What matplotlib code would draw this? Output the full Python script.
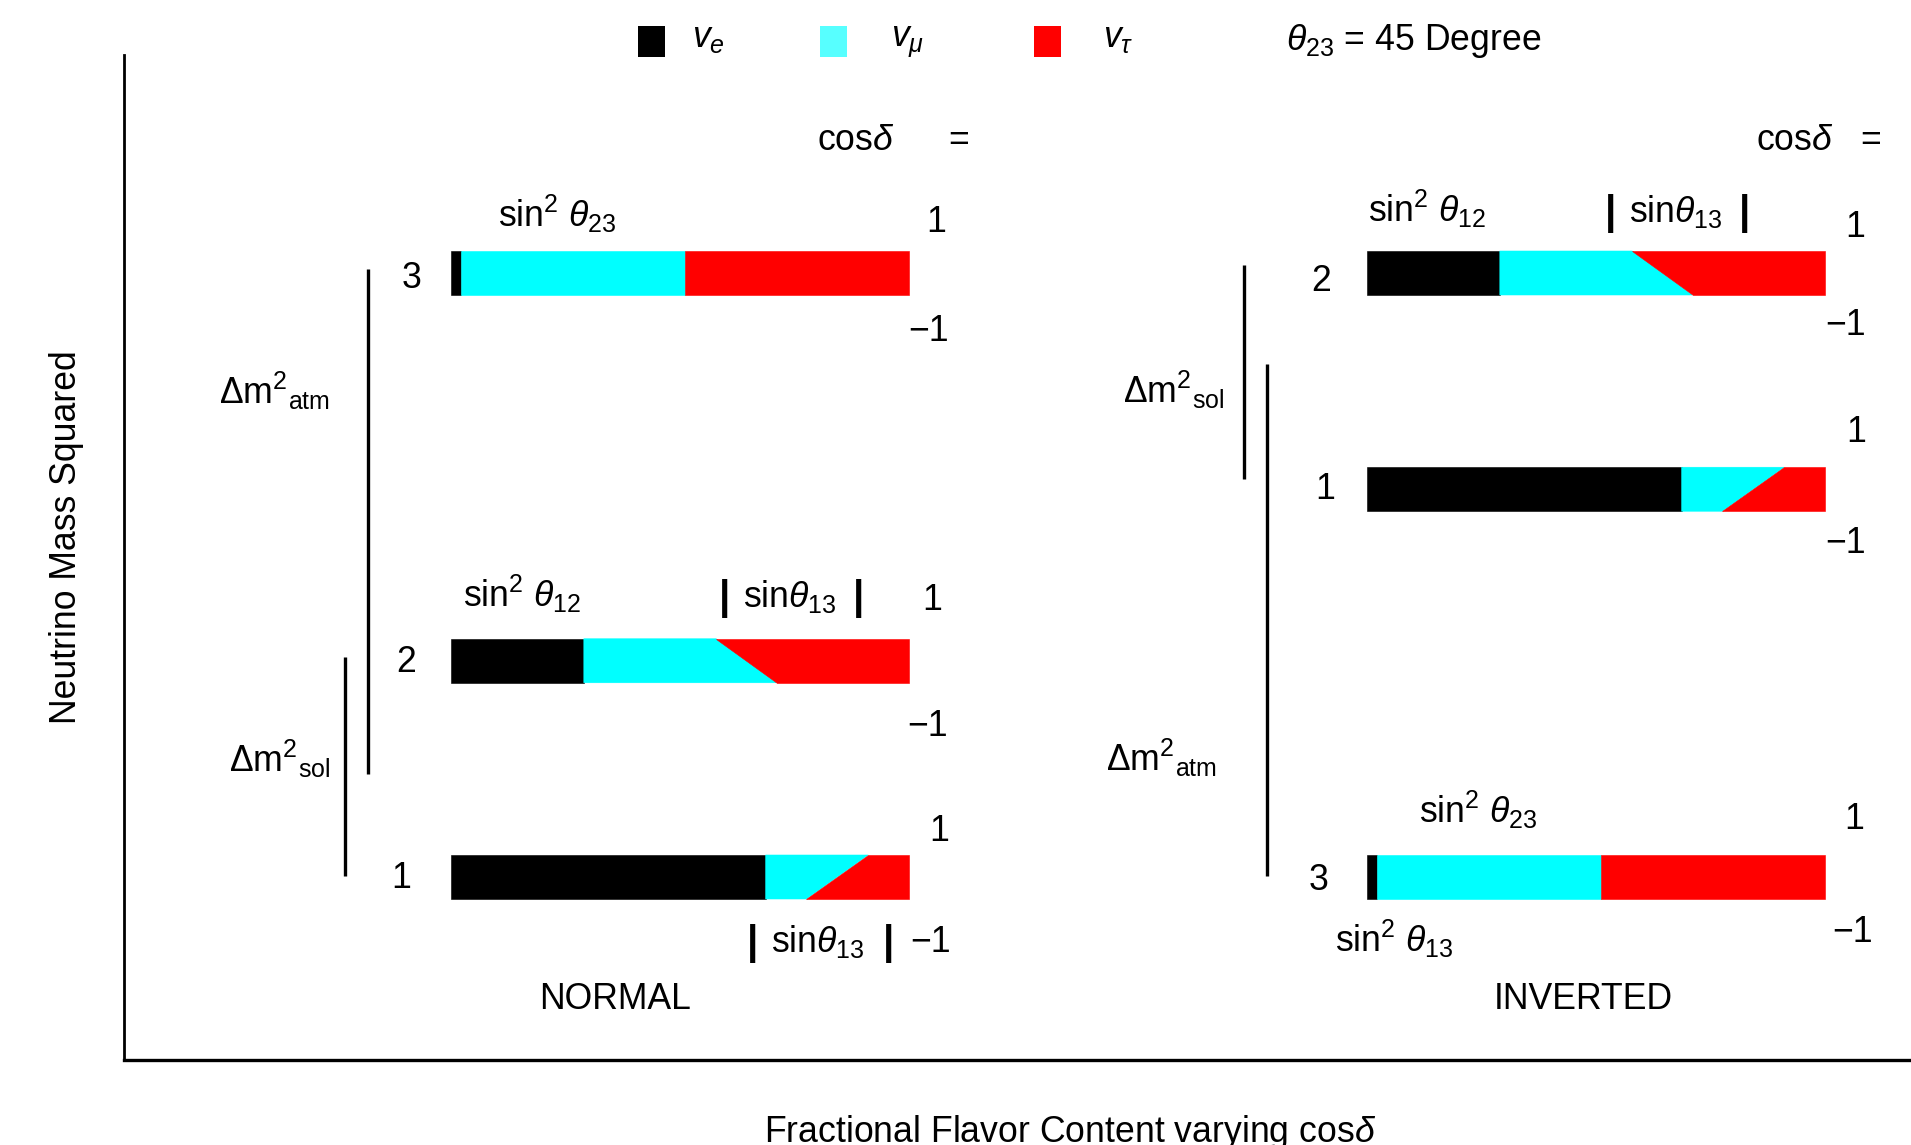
import numpy as np
import matplotlib
matplotlib.use("Agg")
import matplotlib.pyplot as plt
from matplotlib.patches import Rectangle

plt.rcParams['font.family'] = ['Liberation Sans', 'DejaVu Sans']
plt.rcParams['mathtext.fontset'] = 'custom'
plt.rcParams['mathtext.rm'] = 'Liberation Sans'
plt.rcParams['mathtext.it'] = 'Liberation Sans:italic'
plt.rcParams['mathtext.bf'] = 'Liberation Sans:bold'

W, H = 1911, 1145
FS = 25.7

# flavour content of mass states 1, 2, 3
states = ['1', '2', '3']
ve_frac = [0.687, 0.290, 0.022]
vmu_cos_p1 = [0.224, 0.289, 0.489]   # cos(delta) = +1, top edge of bar
vmu_cos_m1 = [0.089, 0.421, 0.489]   # cos(delta) = -1, bottom edge of bar

# mass squared levels (arbitrary units)
msq_normal = [0.0, 0.358, 1.0]
msq_inverted = [0.642, 1.0, 0.0]

legend_labels = [r'$v_e$', r'$v_\mu$', r'$v_\tau$']
flavor_colors = ['#000000', '#00FFFF', '#FF0000']
legend_colors = ['#000000', '#57FFFF', '#FF0000']

fig = plt.figure(figsize=(W / 100, H / 100), dpi=100)
ax = fig.add_axes([124 / W, (H - 1060) / H, (W - 124) / W, (1060 - 55) / H])
ax.set_xlim((124 - 451) / 458, (W - 451) / 458)
ax.set_ylim((877 - 1060) / 604, (877 - 55) / 604)
for s in ['top', 'right']:
    ax.spines[s].set_visible(False)
ax.spines['left'].set_linewidth(2.0)
ax.spines['bottom'].set_linewidth(2.4)
ax.set_xticks([])
ax.set_yticks([])

half = 22 / 604


def draw_bar(x0, y, fe, fmu_top, fmu_bot):
    top, bot = y + half, y - half
    kw = dict(lw=0.4)
    ax.fill([x0, x0 + fe, x0 + fe, x0], [bot, bot, top, top],
            color=flavor_colors[0], **kw)
    ax.fill([x0 + fe, x0 + fe + fmu_top, x0 + fe + fmu_bot, x0 + fe],
            [top, top, bot, bot], color=flavor_colors[1], **kw)
    ax.fill([x0 + fe + fmu_top, x0 + 1, x0 + 1, x0 + fe + fmu_bot],
            [top, top, bot, bot], color=flavor_colors[2], **kw)


for i in range(3):
    draw_bar(0.0, msq_normal[i], ve_frac[i], vmu_cos_p1[i], vmu_cos_m1[i])
    draw_bar(2.0, msq_inverted[i], ve_frac[i], vmu_cos_p1[i], vmu_cos_m1[i])

# splitting brackets: x, y0, y1
brackets = [(-0.2325, 0.002, 0.365), (-0.1806, 0.170, 1.007),
            (1.7321, 0.659, 1.014), (1.781, 0.001, 0.849)]
for bx, y0, y1 in brackets:
    ax.plot([bx, bx], [y0, y1], color='black', lw=2.4, solid_capstyle='butt')

ax.set_xlabel(r'Fractional Flavor Content varying cos$\delta$', fontsize=FS)
ax.xaxis.set_label_coords((1070 - 124) / 1787, (1060 - 1113) / 1005)
ax.set_ylabel('Neutrino Mass Squared', fontsize=FS, va='center', ha='center',
              rotation_mode='default')
ax.yaxis.set_label_coords((67 - 124) / 1787, (1060 - 537) / 1005)


def put(s, x, y, ha='center', size=FS, weight='normal'):
    fig.text(x / W, 1 - y / H, s, ha=ha, va='baseline', fontsize=size,
             fontweight=weight)


def abs_sin13(xl, xs, xr, y):
    put('|', xl, y + 2, size=29, weight='bold')
    put(r'sin$\theta_{13}$', xs, y, 'left')
    put('|', xr, y + 2, size=29, weight='bold')


dm_atm = r'$\Delta\mathrm{m}^2{}_\mathrm{atm}$'
dm_sol = r'$\Delta\mathrm{m}^2{}_\mathrm{sol}$'
s23 = r'$\mathrm{sin}^2\ \theta_{23}$'
s12 = r'$\mathrm{sin}^2\ \theta_{12}$'
s13sq = r'$\mathrm{sin}^2\ \theta_{13}$'

# normal ordering
put('3', 412, 288); put('2', 406, 672); put('1', 401, 888)
put(s23, 498, 227, 'left')
put('1', 936, 232); put('\u22121', 929, 341)
put(s12, 463, 607, 'left')
abs_sin13(725, 743, 859, 607)
put('1', 932, 610); put('\u22121', 928, 736)
put('1', 939, 841)
abs_sin13(753, 771, 888, 952)
put('\u22121', 931, 952)
put(dm_atm, 219, 404, 'left'); put(dm_sol, 229, 772, 'left')
put('NORMAL', 615, 1009)
put(r'cos$\delta$', 817, 150, 'left'); put('=', 959, 150)

# inverted ordering
put('2', 1321, 291); put('1', 1325, 499); put('3', 1319, 890)
put(s12, 1368, 222, 'left')
abs_sin13(1611, 1629, 1745, 222)
put('1', 1855, 237); put('\u22121', 1846, 335)
put('1', 1856, 442); put('\u22121', 1846, 553)
put(s23, 1419, 823, 'left'); put('1', 1854, 829); put('\u22121', 1853, 942)
put(s13sq, 1335, 952, 'left')
put(dm_sol, 1123, 403, 'left'); put(dm_atm, 1106, 771, 'left')
put('INVERTED', 1583, 1009)
put(r'cos$\delta$', 1756, 150, 'left'); put('=', 1871, 150)

# legend
sq_x = [638, 820, 1034]
lab_x = [692, 891, 1103]
for c, sx, lx, lab in zip(legend_colors, sq_x, lab_x, legend_labels):
    fig.patches.append(Rectangle((sx / W, 1 - 57 / H), 27 / W, 31 / H,
                                 transform=fig.transFigure, color=c, lw=0))
    put(lab, lx, 47, 'left')
put(r'$\theta_{23}$ = 45 Degree', 1286, 50, 'left')

fig.savefig('out.png', dpi=100)
